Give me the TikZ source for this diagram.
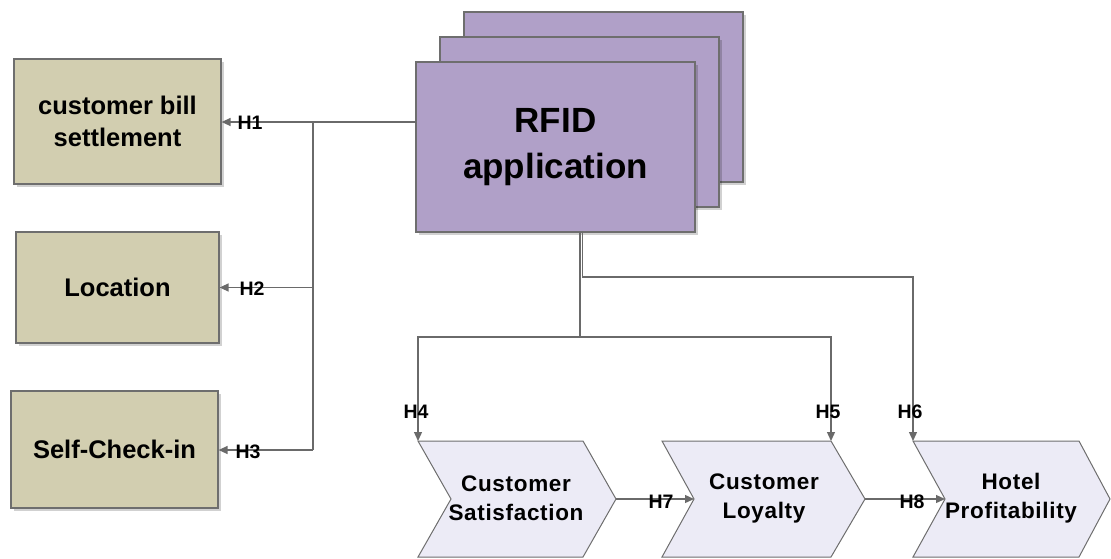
\documentclass[tikz,border=0pt]{standalone}
\usepackage{fontspec}
\setmainfont{Liberation Sans}
\usetikzlibrary{arrows.meta,shadows}
\definecolor{boxtan}{HTML}{D2CEB0}
\definecolor{rfidpurple}{HTML}{B0A0C8}
\definecolor{chevfill}{HTML}{ECEBF6}
\definecolor{edgegray}{HTML}{6E6E6E}
\definecolor{linkgray}{HTML}{6A6A6A}
\tikzset{
  softshadow/.style={drop shadow={shadow xshift=2.5pt,shadow yshift=-2.5pt,fill=black,opacity=0.18}},
  factor/.style={draw=edgegray,line width=1.2pt,fill=boxtan,softshadow,inner sep=0pt,
    align=center,font=\fontsize{25.5}{32}\selectfont\bfseries},
  rfidbox/.style={draw=edgegray,line width=1.2pt,fill=rfidpurple,softshadow,inner sep=0pt,
    minimum width=279pt,minimum height=170pt,align=center,
    font=\fontsize{35}{46}\selectfont\bfseries},
  chev/.style={draw=edgegray,line width=1pt,fill=chevfill},
  chevtext/.style={align=center,font=\fontsize{22.5}{29}\selectfont\bfseries\addfontfeatures{LetterSpace=3}},
  link/.style={draw=linkgray,line width=1.3pt},
  arr/.style={link,-{Triangle[length=9pt,width=8pt]}},
  hlabel/.style={font=\fontsize{19.5}{20}\selectfont\bfseries,inner sep=0pt}
}
\begin{document}
\begin{tikzpicture}[x=1pt,y=-1pt]
\useasboundingbox (0,0) rectangle (1111,558);

% RFID application stack
\node[rfidbox] (rfid3) at (603.5,97) {};
\node[rfidbox] (rfid2) at (579.5,122) {};
\node[rfidbox] (rfid) at (555.5,147) {RFID\\application};

% outcome boxes on the left
\node[factor,minimum width=207pt,minimum height=125pt] (b1) at (117.5,121.5) {customer bill\\settlement};
\node[factor,minimum width=203pt,minimum height=111pt] (b2) at (117.5,287.5) {Location};
\node[factor,minimum width=207pt,minimum height=117pt] (b3) at (114.5,449.5) {Self-Check-in};

% chevron process steps
\draw[chev] (418,441) -- (583,441) -- (616,499) -- (583,557) -- (418,557) -- (451,499) -- cycle;
\draw[chev] (662,441) -- (831,441) -- (865,499) -- (831,557) -- (662,557) -- (694,499) -- cycle;
\draw[chev] (913,441) -- (1079,441) -- (1110,499) -- (1079,557) -- (913,557) -- (945,499) -- cycle;
\node[chevtext] (sat) at (516,498) {Customer\\Satisfaction};
\node[chevtext] (loy) at (764,498) {Customer\\Loyalty};
\node[chevtext] (prof) at (1011,498) {Hotel\\Profitability};

% anchor points of the chevrons
\coordinate (c1tl) at (418,441);
\coordinate (c1tip) at (616,499);
\coordinate (c2tr) at (831,441);
\coordinate (c2notch) at (694,499);
\coordinate (c2tip) at (865,499);
\coordinate (c3tl) at (913,441);
\coordinate (c3notch) at (945,499);

% branching points
\coordinate (rfidL) at (416,122);
\coordinate (trunkTop) at (313,122);
\coordinate (trunkBot) at (313,450);
\coordinate (rfidA) at (580,232);
\coordinate (jA) at (580,337);
\coordinate (rfidB) at (582.5,232);
\coordinate (jB) at (582.5,277);

% links to the left boxes
\draw[arr] (rfidL) -- (rfidL -| b1.east);
\draw[link] (trunkTop) -- (trunkBot);
\draw[arr] (trunkTop |- b2.east) -- (b2.east);
\draw[arr] (trunkBot) -- (trunkBot -| b3.east);

% links to the chevrons
\draw[link] (rfidA) -- (jA);
\draw[arr] (jA) -| (c1tl);
\draw[arr] (jA) -| (c2tr);
\draw[arr] (rfidB) -- (jB) -| (c3tl);
\draw[arr] (c1tip) -- (c2notch);
\draw[arr] (c2tip) -- (c3notch);

% hypothesis labels
\node[hlabel] (h1) at (250,123) {H1};
\node[hlabel] (h2) at (252,289) {H2};
\node[hlabel] (h3) at (248,452) {H3};
\node[hlabel] (h4) at (416,412) {H4};
\node[hlabel] (h5) at (828,412) {H5};
\node[hlabel] (h6) at (910,412) {H6};
\node[hlabel] (h7) at (661,502) {H7};
\node[hlabel] (h8) at (912,502) {H8};
\end{tikzpicture}
\end{document}
